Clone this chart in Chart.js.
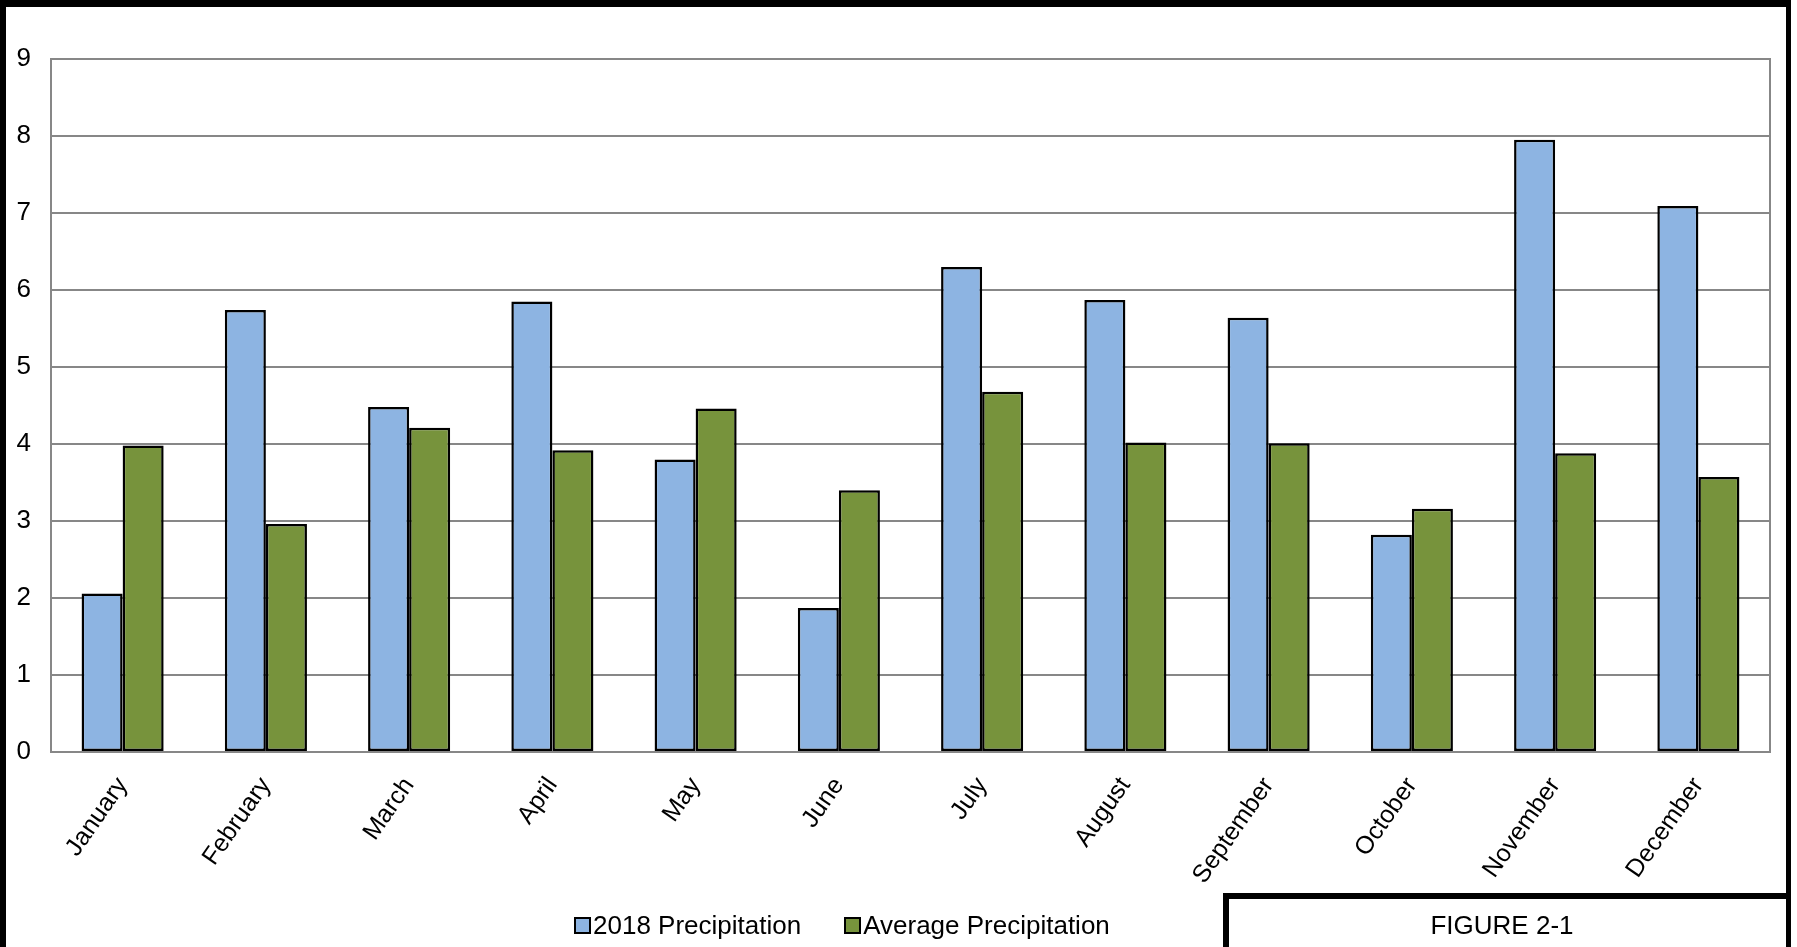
<!DOCTYPE html>
<html>
<head>
<meta charset="utf-8">
<title>Monthly Precipitation</title>
<script src="https://cdn.jsdelivr.net/npm/chart.js@4.4.1/dist/chart.umd.min.js"></script>
<style>
  html, body { margin: 0; padding: 0; background: #fff; overflow: hidden; }
  #wrap { position: relative; width: 1797px; height: 947px; }
  #chart { position: absolute; left: 0; top: 0; }
  #frame {
    position: absolute; left: 0; top: 0; width: 1791px; height: 1000px;
    box-sizing: border-box; border-left: 6px solid #000; border-top: 7px solid #000;
    border-right: 5px solid #000; pointer-events: none;
  }
  #figbox {
    position: absolute; left: 1223px; top: 893px; width: 568px; height: 80px;
    box-sizing: border-box; border-left: 6px solid #000; border-top: 6px solid #000;
  }
  #figlabel {
    position: absolute; left: 1229px; width: 546px; top: 910px; height: 30px;
    font: 26px "Liberation Sans", Arial, sans-serif; color: #000; text-align: center; line-height: 30px;
  }
  #legend {
    position: absolute; left: 574px; top: 910px; height: 30px;
    display: flex; align-items: center;
    font: 26px "Liberation Sans", Arial, sans-serif; color: #000; line-height: 30px;
  }
  #legend .item { display: flex; align-items: center; margin-right: 43px; white-space: nowrap; }
  #legend .box { width: 17px; height: 17px; box-sizing: border-box; border: 2.5px solid #000; margin-right: 2px; }
</style>
</head>
<body>
<div id="wrap">
  <canvas id="chart" width="1797" height="947"></canvas>
  <div id="frame"></div>
  <div id="legend"></div>
  <div id="figbox"></div>
  <div id="figlabel">FIGURE 2-1</div>
</div>
<script>
// Monthly precipitation (inches)
const months = ['January', 'February', 'March', 'April', 'May', 'June',
                'July', 'August', 'September', 'October', 'November', 'December'];
const precip2018 = [2.06, 5.74, 4.48, 5.85, 3.80, 1.87, 6.30, 5.87, 5.64, 2.82, 7.95, 7.09];
const precipAverage = [3.98, 2.96, 4.21, 3.92, 4.46, 3.40, 4.68, 4.02, 4.01, 3.16, 3.88, 3.57];
const yTicks = [0, 1, 2, 3, 4, 5, 6, 7, 8, 9];

const seriesNames = ['2018 Precipitation', 'Average Precipitation'];
const seriesColors = ['#8DB4E2', '#77933C'];

const FONT = { family: '"Liberation Sans", Arial, sans-serif', size: 26 };
const XFONT = { family: '"Liberation Sans", Arial, sans-serif', size: 25 };
const GRID = '#878787';

// Outline of the plotting area (right edge has no axis of its own)
const plotFrame = {
  id: 'plotFrame',
  beforeDatasetsDraw(chart) {
    const { ctx, chartArea: a } = chart;
    ctx.save();
    ctx.strokeStyle = GRID;
    ctx.lineWidth = 2;
    ctx.strokeRect(a.left, a.top, a.right - a.left, a.bottom - a.top);
    ctx.restore();
  }
};

// Legend rendered as HTML from the chart's own legend items
const htmlLegend = {
  id: 'htmlLegend',
  afterUpdate(chart) {
    const el = document.getElementById('legend');
    el.innerHTML = '';
    const items = chart.options.plugins.legend.labels.generateLabels(chart);
    items.forEach(it => {
      const row = document.createElement('div');
      row.className = 'item';
      const box = document.createElement('span');
      box.className = 'box';
      box.style.background = it.fillStyle;
      const txt = document.createElement('span');
      txt.textContent = it.text;
      row.appendChild(box);
      row.appendChild(txt);
      el.appendChild(row);
    });
  }
};

new Chart(document.getElementById('chart'), {
  type: 'bar',
  data: {
    labels: months,
    datasets: [
      { label: seriesNames[0], data: precip2018, backgroundColor: seriesColors[0] },
      { label: seriesNames[1], data: precipAverage, backgroundColor: seriesColors[1] }
    ].map(ds => Object.assign(ds, {
      borderColor: '#000',
      borderWidth: 2.5,
      borderSkipped: false,
      categoryPercentage: 0.573,
      barPercentage: 1.0
    }))
  },
  options: {
    responsive: false,
    animation: false,
    layout: { padding: { top: 59, right: 27, bottom: 45, left: 0 } },
    plugins: {
      legend: { display: false },
      tooltip: { enabled: false },
      title: { display: false }
    },
    scales: {
      x: {
        grid: { display: false, drawTicks: false },
        border: { display: true, color: GRID, width: 2 },
        ticks: {
          color: '#000', font: XFONT, minRotation: 55, maxRotation: 55,
          padding: 20, labelOffset: 0, autoSkip: false
        },
        afterFit(scale) { scale.height = 150; }
      },
      y: {
        min: yTicks[0],
        max: yTicks[yTicks.length - 1],
        afterBuildTicks(scale) { scale.ticks = yTicks.map(v => ({ value: v })); },
        grid: { color: GRID, lineWidth: 2, drawTicks: false },
        border: { display: true, color: GRID, width: 2 },
        ticks: { color: '#000', font: FONT, padding: 20, stepSize: 1 },
        afterFit(scale) { scale.width = 51; }
      }
    }
  },
  plugins: [plotFrame, htmlLegend]
});
</script>
</body>
</html>
